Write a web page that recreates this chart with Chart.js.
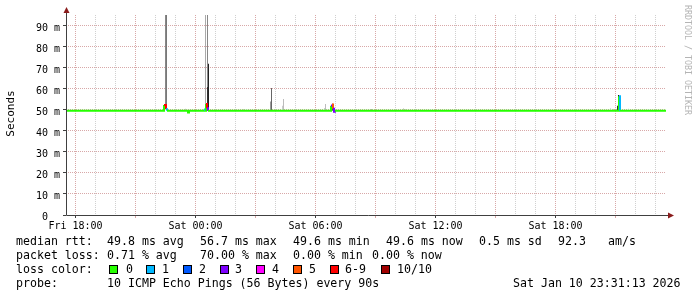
<!DOCTYPE html>
<html>
<head>
<meta charset="utf-8">
<script src="https://cdn.jsdelivr.net/npm/chart.js@4.4.0/dist/chart.umd.min.js"></script>
<style>
  html, body { margin: 0; padding: 0; background: #fff; }
  #wrap { width: 697px; height: 297px; }
</style>
</head>
<body>
<div id="wrap"><canvas id="chart1" width="697" height="297"></canvas></div>
<script>
// time axis = hours since Fri 18:00 (one step = 3 min)
const xTickHours = [0, 6, 12, 18, 24];
const xTickLabels = ['Fri 18:00', 'Sat 00:00', 'Sat 06:00', 'Sat 12:00', 'Sat 18:00'];
const yTickValues = [0, 10, 20, 30, 40, 50, 60, 70, 80, 90];
const yTickLabels = ['0  ', '10 m', '20 m', '30 m', '40 m', '50 m', '60 m', '70 m', '80 m', '90 m'];

// median rtt in ms (stepped), loss = lost pings out of 10
const medianTimes  = [-0.475, 4.425, 4.525, 4.575, 5.625, 5.675, 6.425, 6.475, 6.525, 6.575, 6.625,
                      12.775, 12.825, 12.875, 12.925, 12.975, 27.175, 27.225, 29.525];
const medianValues = [49.6, 52.4, 50.4, 49.6, 48.8, 49.6, 50.2, 49.6, 52.8, 50.8, 49.6,
                      52.0, 52.6, 50.6, 49.2, 49.6, 56.6, 49.6, 49.6];
const medianLoss   = [0, 6, 1, 0, 0, 0, 1, 0, 6, 3, 0,
                      3, 5, 3, 3, 0, 1, 0, 0];

// smoke: spread of the pings of one step (density 0..1)
const smokeTimes   = [4.40, 4.50, 4.55, 5.50, 6.50, 6.60, 6.60, 6.65, 8.40, 8.55, 9.75, 9.80,
                      10.35, 10.40, 12.45, 12.50, 12.75, 12.85, 14.80, 16.40, 16.50, 17.00, 17.75,
                      26.75, 26.90, 27.10, 27.15, 27.65, 28.65];
const smokeLow     = [49.6, 52.4, 52.4, 49.6, 52.0, 53.0, 49.6, 49.6, 49.6, 49.6, 49.6, 49.6,
                      49.6, 49.6, 49.6, 49.6, 49.6, 49.6, 49.6, 49.6, 49.6, 49.6, 49.6,
                      49.6, 49.6, 49.6, 49.6, 49.6, 49.6];
const smokeHigh    = [52.0, 95.2, 95.2, 50.6, 95.2, 95.2, 61.0, 72.0, 50.4, 50.3, 54.0, 60.5,
                      52.0, 55.2, 51.0, 52.9, 51.8, 53.0, 50.4, 50.8, 50.3, 50.3, 50.3,
                      50.8, 50.5, 52.0, 57.1, 50.6, 50.4];
const smokeDensity = [0.9, 0.47, 0.55, 0.13, 0.3, 0.47, 0.9, 0.98, 0.13, 0.13, 0.38, 0.64,
                      0.13, 0.21, 0.13, 0.21, 0.98, 0.72, 0.38, 0.13, 0.13, 0.13, 0.13,
                      0.13, 0.13, 0.9, 0.98, 0.13, 0.13];

const lossLabels = ['0', '1', '2', '3', '4', '5', '6-9', '10/10'];
const lossColors = ['#26ff00', '#00b8ff', '#0059ff', '#7e00ff', '#ff00ff', '#ff5500', '#ff0000', '#a10000'];

const MONO = '"DejaVu Sans Mono", monospace';

function lossIndex(n) {
    if (n >= 10) return 7;
    if (n >= 6) return 6;
    return n;
}

function smokeColor(d) {
    const l = Math.round(230 - d * 200);
    return `rgb(${l},${l},${l})`;
}

const smokeData = smokeTimes.map((t, i) => ({ x: t, y: [smokeLow[i], smokeHigh[i]] }));
const medianData = medianTimes.map((t, i) => ({ x: t, y: medianValues[i] }));

const MGRID = '#d8a8a8';
const GRID = '#d0d0d0';

const rrdDecor = {
    id: 'rrdDecor',
    afterDatasetsDraw(chart) {
        const { ctx, chartArea: a } = chart;
        ctx.save();
        // axes
        ctx.strokeStyle = '#404040';
        ctx.lineWidth = 1;
        ctx.beginPath();
        ctx.moveTo(66.5, a.bottom + 0.5);
        ctx.lineTo(670, a.bottom + 0.5);
        ctx.moveTo(66.5, a.bottom + 0.5);
        ctx.lineTo(66.5, 11);
        ctx.stroke();
        // arrows
        ctx.fillStyle = '#8a1c1c';
        ctx.beginPath();
        ctx.moveTo(674, a.bottom + 0.5);
        ctx.lineTo(668, a.bottom - 2.5);
        ctx.lineTo(668, a.bottom + 3.5);
        ctx.closePath();
        ctx.fill();
        ctx.beginPath();
        ctx.moveTo(66.5, 7);
        ctx.lineTo(63.5, 13);
        ctx.lineTo(69.5, 13);
        ctx.closePath();
        ctx.fill();

        // y title
        ctx.fillStyle = '#000';
        ctx.font = '11px ' + MONO;
        ctx.textAlign = 'center';
        ctx.textBaseline = 'middle';
        ctx.save();
        ctx.translate(11, 113.5);
        ctx.rotate(-Math.PI / 2);
        ctx.fillText('Seconds', 0, 0);
        ctx.restore();

        // watermark
        ctx.save();
        ctx.fillStyle = '#b4b4b4';
        ctx.font = '8.3px ' + MONO;
        ctx.textAlign = 'left';
        ctx.translate(687, 5);
        ctx.rotate(Math.PI / 2);
        ctx.fillText('RRDTOOL / TOBI OETIKER', 0, 0);
        ctx.restore();

        // legend
        ctx.font = '11.6px ' + MONO;
        ctx.textAlign = 'left';
        ctx.textBaseline = 'alphabetic';
        ctx.fillStyle = '#000';
        const rows = [
            [245, [['median rtt:', 16], ['49.8 ms avg', 107], ['56.7 ms max', 200], ['49.6 ms min', 293],
                   ['49.6 ms now', 386], ['0.5 ms sd', 479], ['92.3', 558], ['am/s', 608]]],
            [259, [['packet loss:', 16], ['0.71 % avg', 107], ['70.00 % max', 200], ['0.00 % min', 293],
                   ['0.00 % now', 372]]],
            [273, [['loss color:', 16]]],
            [287, [['probe:', 16], ['10 ICMP Echo Pings (56 Bytes) every 90s', 107],
                   ['Sat Jan 10 23:31:13 2026', 513]]]
        ];
        rows.forEach(([y, items]) => items.forEach(([s, x]) => ctx.fillText(s, x, y)));

        const boxX = [109, 146, 183, 220, 256, 293, 330, 381];
        const labX = [126, 162, 199, 235, 272, 309, 345, 397];
        lossLabels.forEach((lab, i) => {
            ctx.fillStyle = lossColors[i];
            ctx.fillRect(boxX[i] + 0.5, 265.5, 8, 8);
            ctx.strokeStyle = '#000';
            ctx.strokeRect(boxX[i] + 0.5, 265.5, 8, 8);
            ctx.fillStyle = '#000';
            ctx.fillText(lab, labX[i], 273);
        });
        ctx.restore();
    }
};

new Chart(document.getElementById('chart1'), {
    type: 'line',
    data: {
        datasets: [
            {
                type: 'bar',
                data: smokeData,
                backgroundColor: (c) => smokeColor(smokeDensity[c.dataIndex]),
                borderWidth: 0,
                barThickness: 1,
                inflateAmount: 0,
                grouped: false,
                order: 2
            },
            {
                type: 'line',
                data: medianData,
                stepped: true,
                borderWidth: 2,
                borderColor: lossColors[0],
                pointRadius: 0,
                fill: false,
                segment: {
                    borderColor: (c) => lossColors[lossIndex(medianLoss[c.p0DataIndex])]
                },
                order: 1
            }
        ]
    },
    options: {
        responsive: false,
        animation: false,
        devicePixelRatio: 1,
        layout: { padding: { left: 0, right: 31, top: 15, bottom: 62 } },
        plugins: { legend: { display: false }, tooltip: { enabled: false } },
        scales: {
            x: {
                type: 'linear',
                min: -0.475,
                max: 29.525,
                offset: false,
                afterBuildTicks: (s) => {
                    const ticks = [];
                    for (let h = 0; h <= 29; h++) ticks.push({ value: h });
                    s.ticks = ticks;
                },
                afterFit: (s) => { s.height = 20; },
                grid: {
                    offset: false,
                    color: (c) => (c.tick.value % 3 === 0 ? MGRID : GRID),
                    tickColor: (c) => (c.tick.value % 6 === 0 ? '#404040' : (c.tick.value % 3 === 0 ? MGRID : 'rgba(0,0,0,0)')),
                    tickLength: 3,
                    tickBorderDash: []
                },
                border: { display: false, dash: [1, 1] },
                ticks: {
                    autoSkip: false,
                    maxRotation: 0,
                    padding: 2,
                    color: '#000',
                    font: { family: MONO, size: 10 },
                    callback: (v) => {
                        const i = xTickHours.indexOf(v);
                        return i >= 0 ? xTickLabels[i] : '';
                    }
                }
            },
            y: {
                type: 'linear',
                min: 0,
                max: 95.238,
                afterBuildTicks: (s) => {
                    const ticks = [];
                    for (let v = 0; v <= 95; v += 5) ticks.push({ value: v });
                    s.ticks = ticks;
                },
                afterFit: (s) => { s.width = 66; },
                grid: {
                    color: (c) => (c.tick.value === 0 ? 'rgba(0,0,0,0)' : (c.tick.value % 10 === 0 ? MGRID : GRID)),
                    tickColor: (c) => (c.tick.value % 10 === 0 ? '#404040' : MGRID),
                    tickLength: 3,
                    tickBorderDash: []
                },
                border: { display: false, dash: [1, 1] },
                ticks: {
                    padding: 3,
                    labelOffset: 2,
                    color: '#000',
                    font: { family: MONO, size: 10 },
                    callback: (v) => {
                        const i = yTickValues.indexOf(v);
                        return i >= 0 ? yTickLabels[i] : '';
                    }
                }
            }
        }
    },
    plugins: [rrdDecor]
});
</script>
</body>
</html>
